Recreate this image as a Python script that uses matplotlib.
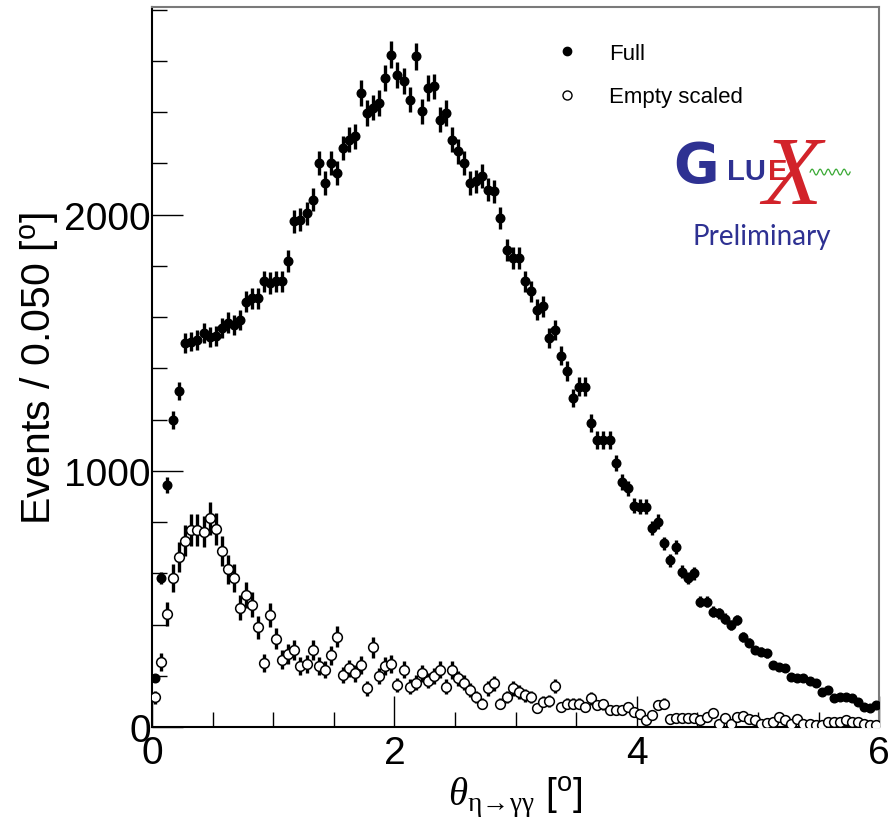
# encoding:utf-8
# theta(eta->gg) distribution, full vs empty target (GlueX preliminary)

import numpy as np
import matplotlib
matplotlib.use('Agg')
import matplotlib.pyplot as plt
from matplotlib.lines import Line2D

plt.rcParams['font.family'] = ['Liberation Sans', 'DejaVu Sans']
plt.rcParams['mathtext.fontset'] = 'custom'
plt.rcParams['mathtext.rm'] = 'Liberation Serif'
plt.rcParams['mathtext.it'] = 'Liberation Serif:italic'
plt.rcParams['mathtext.sf'] = 'Liberation Sans'

# histogram binning (degrees)
bin_width = 0.05
x_lo, x_hi = 0.0, 6.0

# counts per bin
full = [190, 582, 945, 1199, 1312, 1499, 1505, 1512, 1540, 1522,
        1525, 1557, 1579, 1570, 1590, 1661, 1674, 1674, 1740, 1733,
        1740, 1740, 1818, 1974, 1980, 2006, 2059, 2202, 2124, 2202,
        2163, 2260, 2293, 2306, 2475, 2397, 2417, 2436, 2534, 2625,
        2547, 2521, 2449, 2618, 2404, 2495, 2501, 2371, 2397, 2293,
        2247, 2202, 2124, 2130, 2150, 2098, 2091, 1987, 1863, 1831,
        1831, 1740, 1701, 1629, 1642, 1518, 1551, 1450, 1390, 1284,
        1329, 1329, 1186, 1121, 1121, 1121, 1032, 958, 932, 864,
        861, 861, 776, 802, 717, 652, 704, 607, 581, 600,
        490, 490, 451, 444, 424, 398, 418, 353, 330, 301,
        294, 288, 242, 236, 229, 197, 190, 190, 181, 171,
        138, 145, 112, 116, 118, 112, 99, 79, 73, 86]

empty_scaled = [116, 255, 441, 581, 665, 727, 770, 770, 763, 815,
                772, 689, 616, 581, 467, 516, 477, 389, 251, 438,
                346, 264, 285, 301, 238, 246, 301, 238, 225, 281,
                353, 203, 229, 210, 242, 151, 311, 199, 238, 246,
                164, 225, 158, 173, 210, 181, 199, 225, 158, 223,
                190, 173, 145, 118, 92, 151, 171, 92, 118, 151,
                138, 125, 118, 73, 99, 103, 160, 79, 92, 92,
                92, 77, 112, 86, 90, 66, 66, 66, 79, 60,
                53, 27, 47, 86, 92, 30, 34, 34, 34, 34,
                27, 40, 56, 14, 34, 14, 40, 43, 30, 27,
                14, 17, 21, 38, 27, 14, 30, 12, 12, 8,
                8, 21, 21, 21, 27, 21, 21, 12, 8, 8]

# scale applied to the empty-target sample (sets its error size)
empty_scale = 5.0

full = np.array(full, dtype=float)
empty_scaled = np.array(empty_scaled, dtype=float)
centres = x_lo + bin_width * (np.arange(len(full)) + 0.5)
full_err = np.sqrt(full)
empty_err = np.sqrt(empty_scale * empty_scaled)

fig = plt.figure(figsize=(8.89, 8.20), dpi=100)
ax = fig.add_axes([0.171, 0.112, 0.818, 0.878])

ax.errorbar(centres, full, yerr=full_err, fmt='none', ecolor='black',
            elinewidth=2.4, capsize=0, zorder=2)
ax.plot(centres, full, 'o', color='black', ms=6.2, zorder=3)
ax.errorbar(centres, empty_scaled, yerr=empty_err, fmt='none', ecolor='black',
            elinewidth=2.4, capsize=0, zorder=2)
ax.plot(centres, empty_scaled, 'o', mfc='white', mec='black', mew=1.1,
        ms=7.0, zorder=4)

ax.set_xlim(x_lo, x_hi)
ax.set_ylim(0, 2810)
ax.set_xticks([0, 2, 4, 6])
ax.set_xticks(np.arange(0, 6.01, 0.5), minor=True)
ax.set_yticks([0, 1000, 2000])
ax.set_yticks(np.arange(0, 2801, 200), minor=True)
ax.tick_params(which='both', direction='in', top=False, right=False,
               labelsize=28, width=1.0)
ax.tick_params(which='major', length=22)
ax.tick_params(which='minor', length=11)
ax.tick_params(axis='y', pad=1)
ax.tick_params(axis='x', pad=6)

for side in ['left', 'bottom']:
    ax.spines[side].set_linewidth(1.5)
    ax.spines[side].set_color('black')
for side in ['top', 'right']:
    ax.spines[side].set_linewidth(1.5)
    ax.spines[side].set_color('#7a7a7a')

ax.set_ylabel(r'Events / 0.050 [$^{\mathsf{o}}$]', fontsize=29.5, labelpad=3)
ax.set_xlabel(r'$\theta_{\mathrm{\eta\!\rightarrow\!\gamma\gamma}}$ [$^{\mathsf{o}}$]',
              fontsize=28, labelpad=2)

handles = [Line2D([], [], ls='none', marker='o', color='black', ms=6),
           Line2D([], [], ls='none', marker='o', mfc='white', mec='black',
                  mew=1.0, ms=6.5)]
ax.legend(handles, ['Full', 'Empty scaled'], loc='upper left',
          bbox_to_anchor=(0.555, 0.950), frameon=False, fontsize=16,
          handlelength=1.0, handletextpad=1.4, borderpad=0, borderaxespad=0,
          labelspacing=1.0)

# GlueX preliminary logo
blue = '#2e3192'
red = '#d2232a'
ax.text(0.748, 0.780, 'G', transform=ax.transAxes, fontsize=40,
        fontweight='bold', color=blue, ha='center', va='center',
        family='DejaVu Sans')
ax.text(0.790, 0.772, 'LU', transform=ax.transAxes, fontsize=21,
        fontweight='bold', color=blue, ha='left', va='center')
ax.text(0.847, 0.772, 'E', transform=ax.transAxes, fontsize=21,
        fontweight='bold', color=red, ha='left', va='center')
ax.text(0.88, 0.760, 'X', transform=ax.transAxes, fontsize=70,
        style='italic', color=red, ha='center', va='center',
        family='Liberation Serif')
wave_t = np.linspace(0, 1, 120)
ax.plot(0.905 + 0.055 * wave_t, 0.771 + 0.004 * np.sin(wave_t * 2 * np.pi * 5),
        transform=ax.transAxes, color='#3aa935', lw=0.9, zorder=5)
ax.text(0.838, 0.682, 'Preliminary', transform=ax.transAxes, fontsize=20,
        color=blue, ha='center', va='center', family='Lato')

fig.savefig('out.png', dpi=100)
